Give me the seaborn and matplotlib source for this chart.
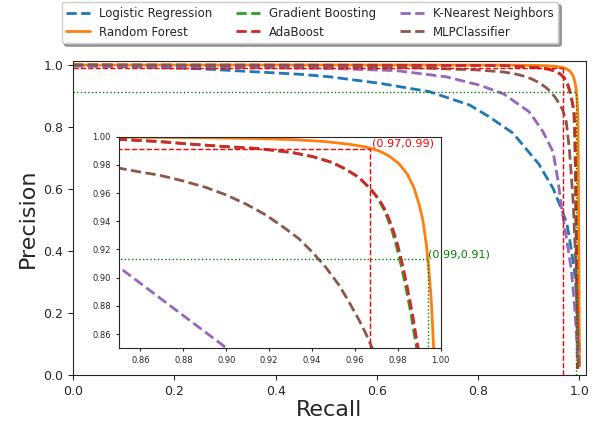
import matplotlib
matplotlib.use("Agg")
import matplotlib.pyplot as plt
import seaborn as sns
import pandas as pd

sns.set_style("ticks")
plt.rcParams['font.family'] = ['DejaVu Sans']

models = ["Logistic Regression", "Random Forest", "Gradient Boosting",
          "AdaBoost", "K-Nearest Neighbors", "MLPClassifier"]
colors = ["#1f77b4", "#ff7f0e", "#2ca02c", "#d62728", "#9467bd", "#8c564b"]
styles = ["--", "-", "--", "--", "--", "--"]

lr_recall = [0.0, 0.1, 0.25, 0.45, 0.507, 0.606, 0.704, 0.783, 0.82, 0.869, 0.92, 0.948, 0.964, 0.975, 0.98, 0.99, 0.997, 1.0, 1.0]
lr_precision = [0.997, 0.995, 0.988, 0.97, 0.962, 0.941, 0.914, 0.871, 0.835, 0.78, 0.68, 0.602, 0.538, 0.49, 0.446, 0.339, 0.21, 0.08, 0.027]

rf_recall = [0.0, 0.5, 0.85, 0.8842, 0.9153, 0.9308, 0.9463, 0.9572, 0.9650, 0.9712, 0.9759, 0.9805, 0.9844,
             0.9875, 0.9899, 0.9917, 0.9933, 0.9945, 0.9955, 0.9961, 0.9967, 0.9975, 0.9985, 0.9993, 1.0]
rf_precision = [1.0, 0.9999, 0.9998, 0.9994, 0.9987, 0.9980, 0.9966, 0.9947, 0.9928, 0.9900, 0.9864, 0.9810, 0.9735,
                0.9641, 0.9523, 0.9406, 0.9241, 0.9053, 0.8865, 0.8700, 0.85, 0.75, 0.5, 0.25, 0.03]

gb_recall = [0.0, 0.4, 0.7, 0.85, 0.8686, 0.8842, 0.8997, 0.9153, 0.9308, 0.9401, 0.9495, 0.9557, 0.9619, 0.9673,
             0.9708, 0.9738, 0.9768, 0.9791, 0.9814, 0.9837, 0.9861, 0.9876, 0.9888, 0.9903, 0.9920, 0.9940, 0.9960]
gb_precision = [1.0, 0.9995, 0.999, 0.9982, 0.9966, 0.9947, 0.9930, 0.9916, 0.9888, 0.9860, 0.9817, 0.9770, 0.9711, 0.9629,
                0.9559, 0.9476, 0.9359, 0.9241, 0.9100, 0.8935, 0.8747, 0.8606, 0.85, 0.80, 0.65, 0.35, 0.02]

ada_recall = [0.0, 0.4, 0.7, 0.85, 0.8686, 0.8842, 0.8997, 0.9153, 0.9308, 0.9401, 0.9495, 0.9557, 0.9619, 0.9673,
              0.9712, 0.9743, 0.9774, 0.9798, 0.9821, 0.9844, 0.9868, 0.9883, 0.9895, 0.9910, 0.9927, 0.9947, 0.9967]
ada_precision = [1.0, 0.9995, 0.999, 0.9982, 0.9966, 0.9947, 0.9930, 0.9916, 0.9888, 0.9860, 0.9817, 0.9770, 0.9711, 0.9629,
                 0.9559, 0.9476, 0.9359, 0.9241, 0.9100, 0.8935, 0.8747, 0.8606, 0.85, 0.80, 0.65, 0.35, 0.02]

knn_recall = [0.0, 0.25, 0.507, 0.638, 0.737, 0.803, 0.8508, 0.8997, 0.908, 0.928, 0.948, 0.958, 0.964, 0.974, 0.984, 0.99, 0.994, 0.997]
knn_precision = [0.998, 0.993, 0.989, 0.982, 0.962, 0.935, 0.9065, 0.8505, 0.833, 0.785, 0.72, 0.624, 0.548, 0.446, 0.339, 0.231, 0.134, 0.06]

mlp_recall = [0.0, 0.3, 0.5, 0.7, 0.80, 0.8508, 0.8609, 0.8686, 0.8795, 0.8904, 0.8997, 0.9091, 0.9184, 0.9277, 0.9339,
              0.9401, 0.9463, 0.9526, 0.9572, 0.9619, 0.9650, 0.9681, 0.974, 0.98, 0.984, 0.988, 0.993, 0.996, 0.998]
mlp_precision = [1.0, 0.998, 0.996, 0.99, 0.984, 0.9775, 0.9747, 0.9728, 0.9688, 0.9641, 0.9589, 0.9523, 0.9446, 0.9347, 0.9276,
                 0.9182, 0.9076, 0.8947, 0.8829, 0.8700, 0.8606, 0.85, 0.817, 0.731, 0.645, 0.55, 0.35, 0.2, 0.03]

recalls = [lr_recall, rf_recall, gb_recall, ada_recall, knn_recall, mlp_recall]
precisions = [lr_precision, rf_precision, gb_precision, ada_precision, knn_precision, mlp_precision]

# marked operating points
red_pt = (0.967, 0.9915)
red_label = "(0.97,0.99)"
green_pt = (0.994, 0.913)
green_label = "(0.99,0.91)"

fig = plt.figure(figsize=(5.94, 4.23), dpi=100)
ax = fig.add_axes([73/594, 1-375/423, 513/594, 314/423])
axin = ax.inset_axes([0.0897, 0.0857, 0.627, 0.673])

for a, main in ((ax, True), (axin, False)):
    for name, r, p, c, ls in zip(models, recalls, precisions, colors, styles):
        df = pd.DataFrame({"Recall": r, "Precision": p})
        sns.lineplot(data=df, x="Recall", y="Precision", ax=a, color=c,
                     linestyle=ls, linewidth=2, estimator=None, sort=False,
                     label=name if main else None)
    a.plot([0, red_pt[0]], [red_pt[1], red_pt[1]], color="red", ls="--", lw=1)
    a.plot([red_pt[0], red_pt[0]], [0, red_pt[1]], color="red", ls="--", lw=1)
    a.plot([0, green_pt[0]], [green_pt[1], green_pt[1]], color="green", ls=":", lw=1)
    a.plot([green_pt[0], green_pt[0]], [0, green_pt[1]], color="green", ls=":", lw=1)

ax.set_xlim(0, 1.013)
ax.set_ylim(0, 1.013)
ax.set_xticks([0.0, 0.2, 0.4, 0.6, 0.8, 1.0])
ax.set_yticks([0.0, 0.2, 0.4, 0.6, 0.8, 1.0])
ax.tick_params(labelsize=9)
ax.set_xlabel("Recall", fontsize=16, labelpad=2)
ax.set_ylabel("Precision", fontsize=16)

axin.set_xlim(0.85, 1.0)
axin.set_ylim(0.85, 1.0)
ticks = [0.86, 0.88, 0.90, 0.92, 0.94, 0.96, 0.98, 1.00]
axin.set_xticks(ticks)
axin.set_yticks(ticks)
axin.set_xticklabels([f"{t:.2f}" for t in ticks])
axin.set_yticklabels([f"{t:.2f}" for t in ticks])
axin.tick_params(labelsize=6, length=2.5)
axin.set_xlabel("")
axin.set_ylabel("")
axin.text(red_pt[0] + 0.0008, red_pt[1], red_label, color="red", fontsize=8, va="bottom", ha="left")
axin.text(green_pt[0], green_pt[1], green_label, color="green", fontsize=8, va="bottom", ha="left")

h, l = ax.get_legend_handles_labels()
ax.get_legend().remove()
fig.legend(h, l, loc="upper center", bbox_to_anchor=(310/594, 1-2/423),
           ncol=3, fontsize=8.5, shadow=True, fancybox=True, borderaxespad=0,
           frameon=True)

fig.savefig("out.png", dpi=100)
